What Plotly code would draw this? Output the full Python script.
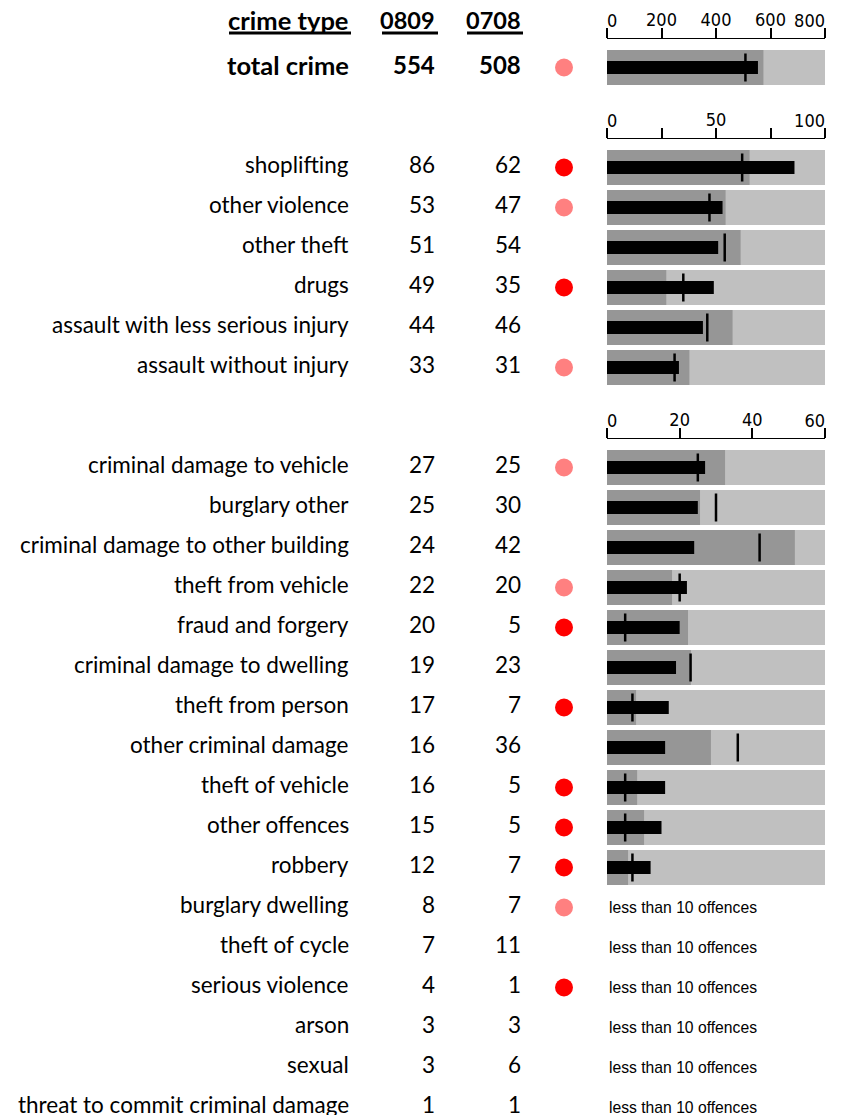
import plotly.graph_objects as go

# ---- data ----
crime_types = [
    "total crime",
    "shoplifting", "other violence", "other theft", "drugs",
    "assault with less serious injury", "assault without injury",
    "criminal damage to vehicle", "burglary other", "criminal damage to other building",
    "theft from vehicle", "fraud and forgery", "criminal damage to dwelling",
    "theft from person", "other criminal damage", "theft of vehicle", "other offences",
    "robbery", "burglary dwelling", "theft of cycle", "serious violence", "arson",
    "sexual", "threat to commit criminal damage",
]
counts_0809 = [554, 86, 53, 51, 49, 44, 33, 27, 25, 24, 22, 20, 19, 17, 16, 16, 15, 12,
               8, 7, 4, 3, 3, 1]
counts_0708 = [508, 62, 47, 54, 35, 46, 31, 25, 30, 42, 20, 5, 23, 7, 36, 5, 5, 7,
               7, 11, 1, 3, 6, 1]
# upper end of the dark grey band, None = no bullet
band_upper = [574, 65.4, 54.4, 61.3, 27.2, 57.6, 37.8, 32.5, 25.6, 51.7, 17.9, 22.3,
              23.1, 8.0, 28.6, 8.3, 10.2, 5.8, None, None, None, None, None, None]
# significance flag: 2 = strong increase, 1 = increase, 0 = none
flags = [1, 2, 1, 0, 2, 0, 1, 1, 0, 0, 1, 2, 0, 2, 0, 2, 2, 2, 1, 0, 2, 0, 0, 0]
# section of each row and the scale of each section
section = [0] + [1] * 6 + [2] * 17
scale_max = [800, 100, 60]
tick_vals = [[0, 200, 400, 600, 800], [0, 25, 50, 75, 100], [0, 20, 40, 60]]
tick_text = [["0", "200", "400", "600", "800"], ["0", "", "50", "", "100"],
             ["0", "20", "40", "60"]]

# ---- layout geometry (pixels) ----
W, H = 841, 1115
ROW = 40
BAR_H = 35
section_first_y = [67.5, 167.5, 467.5]
axis_y = [39, 139, 439]
bar_x0, bar_x1 = 607, 825
label_right, c1_right, c2_right, dot_x = 351, 437, 523, 564

row_y = []
counter = [0, 0, 0]
for s in section:
    row_y.append(section_first_y[s] + ROW * counter[s])
    counter[s] += 1

TEXT_FONT = "Lato, 'Noto Sans', sans-serif"
AXIS_FONT = "'DejaVu Sans Condensed', 'Liberation Sans Narrow', sans-serif"
SMALL_FONT = "'Liberation Sans', Arial, sans-serif"

fig = go.Figure()
layout_axes = {}
tick_font = dict(family=AXIS_FONT, size=18, color="black")

for s in range(3):
    idx = [i for i in range(len(crime_types)) if section[i] == s and band_upper[i] is not None]
    ys = [row_y[i] for i in idx]
    xa = "x" if s == 0 else f"x{s + 1}"
    ya = "y" if s == 0 else f"y{s + 1}"
    fig.add_trace(go.Bar(
        x=[scale_max[s]] * len(idx), y=ys, orientation="h", width=BAR_H,
        marker=dict(color="#c0c0c0", line=dict(width=0)),
        xaxis=xa, yaxis=ya, showlegend=False, hoverinfo="skip",
    ))
    fig.add_trace(go.Bar(
        x=[band_upper[i] for i in idx], y=ys, orientation="h", width=BAR_H,
        marker=dict(color="#969696", line=dict(width=0)),
        xaxis=xa, yaxis=ya, showlegend=False, hoverinfo="skip",
    ))
    fig.add_trace(go.Bar(
        x=[counts_0809[i] for i in idx], y=ys, orientation="h", width=13,
        marker=dict(color="black", line=dict(width=0)),
        xaxis=xa, yaxis=ya, showlegend=False,
    ))
    fig.add_trace(go.Scatter(
        x=[counts_0708[i] for i in idx], y=ys, mode="markers",
        marker=dict(symbol="line-ns", size=20, line=dict(color="black", width=2.5)),
        xaxis=xa, yaxis=ya, showlegend=False, cliponaxis=False,
    ))

    top = axis_y[s]
    bottom = max(ys) + BAR_H / 2 + 1
    xkey = "xaxis" if s == 0 else f"xaxis{s + 1}"
    ykey = "yaxis" if s == 0 else f"yaxis{s + 1}"
    inner_text = [""] + tick_text[s][1:-1] + [""]
    layout_axes[xkey] = dict(
        domain=[bar_x0 / W, bar_x1 / W], range=[0, scale_max[s]],
        anchor=ya, side="top",
        showline=True, linecolor="black", linewidth=1,
        ticks="outside", ticklen=10, tickwidth=1.5, tickcolor="black",
        tickvals=tick_vals[s], ticktext=inner_text,
        tickfont=tick_font, ticklabelstandoff=-5,
        showgrid=False, zeroline=False, fixedrange=True, automargin=False,
    )
    layout_axes[ykey] = dict(
        domain=[1 - bottom / H, 1 - top / H], range=[bottom, top],
        anchor=xa, visible=False, fixedrange=True,
    )

    # first / last tick label kept inside the scale: extra overlaid label axes
    for k, (pos, where) in enumerate([(0, "outside right"), (-1, "outside left")]):
        num = 5 + 2 * s + k
        fig.add_trace(go.Scatter(x=[], y=[], xaxis=f"x{num}", yaxis=ya, showlegend=False))
        layout_axes[f"xaxis{num}"] = dict(
            overlaying=xa, anchor=ya, side="top", range=[0, scale_max[s]],
            showline=False, ticks="", ticklen=10,
            tickvals=[tick_vals[s][pos]], ticktext=[tick_text[s][pos]],
            tickfont=tick_font, ticklabelposition=where, ticklabelstandoff=7,
            showgrid=False, zeroline=False, fixedrange=True, automargin=False,
        )

# significance dots
dot_colors = {1: "#ff8080", 2: "#ff0000"}
dot_idx = [i for i in range(len(crime_types)) if flags[i] > 0]
fig.add_trace(go.Scatter(
    x=[dot_x] * len(dot_idx), y=[row_y[i] for i in dot_idx], mode="markers",
    marker=dict(size=18, color=[dot_colors[flags[i]] for i in dot_idx], line=dict(width=0)),
    xaxis="x4", yaxis="y4", showlegend=False, hoverinfo="skip",
))
layout_axes["xaxis4"] = dict(domain=[0, 1], range=[0, W], visible=False,
                             anchor="y4", fixedrange=True)
layout_axes["yaxis4"] = dict(domain=[0, 1], range=[H, 0], visible=False,
                             anchor="x4", fixedrange=True)


def add_text(x, y, text, size, bold=False, anchor="right", font=TEXT_FONT):
    fig.add_annotation(
        x=x, y=y, xref="x4", yref="y4", text=f"<b>{text}</b>" if bold else text,
        showarrow=False, xanchor=anchor, yanchor="middle",
        font=dict(family=font, size=size, color="black"),
    )


# table header with thick underlines
add_text(label_right, 20, "crime type", 25.5, bold=True)
add_text(c1_right, 20, "0809", 23.5, bold=True)
add_text(c2_right, 20, "0708", 23.5, bold=True)
for x0, x1 in [(229, 351), (382, 438), (467, 523)]:
    fig.add_shape(type="line", xref="x4", yref="y4", x0=x0, x1=x1, y0=33, y1=33,
                  line=dict(color="black", width=3))

for i, name in enumerate(crime_types):
    bold = i == 0
    y = row_y[i] - 3
    add_text(label_right, y, name, 25.5 if bold else 22.5, bold=bold)
    add_text(c1_right, y, str(counts_0809[i]), 24 if bold else 22.5, bold=bold)
    add_text(c2_right, y, str(counts_0708[i]), 24 if bold else 22.5, bold=bold)
    if band_upper[i] is None:
        add_text(bar_x0, row_y[i], "less than 10 offences", 15.7, anchor="left",
                 font=SMALL_FONT)

fig.update_layout(
    width=W, height=H,
    margin=dict(l=0, r=0, t=0, b=0, pad=0),
    paper_bgcolor="white", plot_bgcolor="rgba(0,0,0,0)",
    barmode="overlay",
    **layout_axes,
)

fig.write_html("out.html", config={"displayModeBar": False},
               post_script="document.body.style.margin = '0';")
